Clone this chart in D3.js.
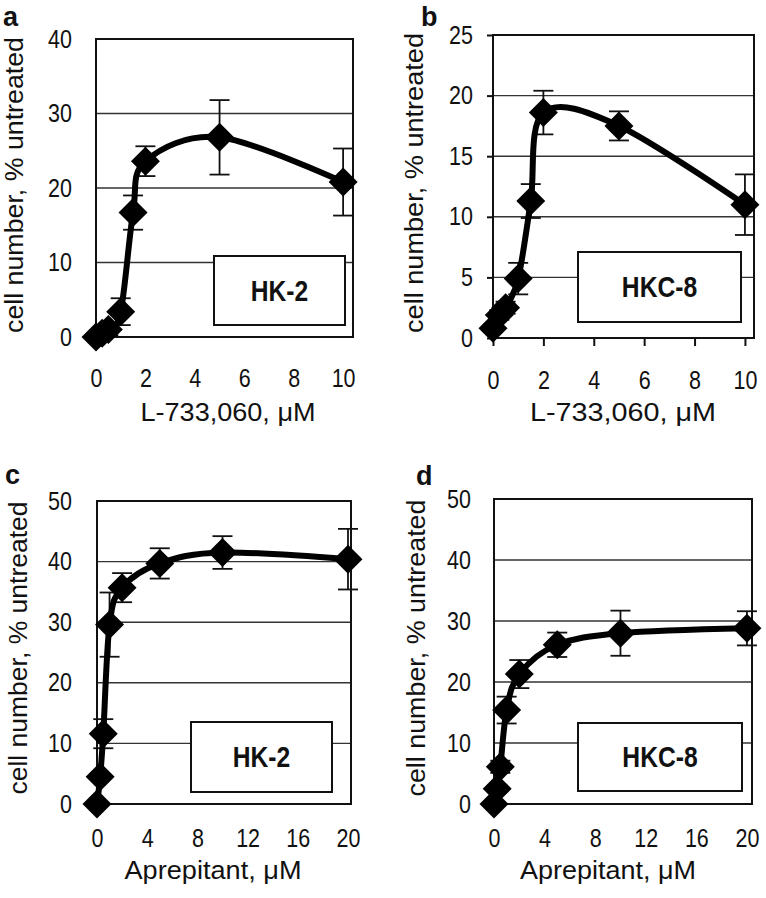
<!DOCTYPE html>
<html>
<head>
<meta charset="utf-8">
<script src="https://cdn.jsdelivr.net/npm/d3@7"></script>
<style>
  body { margin: 0; background: #fff; }
  text { font-family: "Liberation Sans", Arial, sans-serif; fill: #111; }
</style>
</head>
<body>
<svg id="plot" width="766" height="898"></svg>
<script>
// doses (uM)
const doseL733 = [0, 0.25, 0.5, 1, 1.5, 2, 5, 10];
const doseAprep = [0, 0.25, 0.5, 1, 2, 5, 10, 20];

// cell number, % untreated (mean and error)
const hk2L733 = [0, 0.5, 1, 3.4, 16.7, 23.6, 26.8, 20.8];
const hk2L733Err = [0.3, 0.5, 0.8, 1.8, 2.3, 2.0, 5.0, 4.5];
const hkc8L733 = [0.8, 1.9, 2.5, 4.9, 11.3, 18.6, 17.5, 11.0];
const hkc8L733Err = [0.3, 0.4, 0.5, 1.3, 1.4, 1.8, 1.2, 2.5];
const hk2Aprep = [0, 4.5, 11.6, 29.6, 35.7, 39.7, 41.5, 40.4];
const hk2AprepErr = [0.3, 0.5, 2.4, 5.3, 2.4, 2.5, 2.7, 5.0];
const hkc8Aprep = [0, 2.5, 6.1, 15.4, 21.3, 26.1, 28.0, 28.8];
const hkc8AprepErr = [0.3, 0.5, 1.0, 2.2, 2.3, 2.0, 3.7, 2.8];

// tick labels
const xTicksL733 = [0, 2, 4, 6, 8, 10];
const xTicksAprep = [0, 4, 8, 12, 16, 20];
const yTicksA = [0, 10, 20, 30, 40];
const yTicksB = [0, 5, 10, 15, 20, 25];
const yTicksCD = [0, 10, 20, 30, 40, 50];

const yTitle = "cell number, % untreated";
const xTitleL733 = "L-733,060,  \u03bcM";
const xTitleAprep = "Aprepitant, \u03bcM";

// layout of each panel
const panels = [
  { letter: "a", cell: "HK-2", x: doseL733, y: hk2L733, err: hk2L733Err,
    xTicks: xTicksL733, yTicks: yTicksA, xMax: 10.4, yMax: 40, xTitle: xTitleL733,
    left: 96, right: 353, top: 39, bottom: 337, ticks: false,
    yPad: 24, xPad: 41, letterPos: [3, 26], yTitlePos: [15, 185, 296], xTitlePos: [228, 412, 175],
    box: [214, 256, 345, 325] },
  { letter: "b", cell: "HKC-8", x: doseL733, y: hkc8L733, err: hkc8L733Err,
    xTicks: xTicksL733, yTicks: yTicksB, xMax: 10.36, yMax: 25, xTitle: xTitleL733,
    left: 493, right: 754, top: 35, bottom: 338, ticks: true,
    yPad: 20, xPad: 42, letterPos: [421, 26], yTitlePos: [415, 183, 300], xTitlePos: [623, 412, 186],
    box: [578, 252, 741, 322] },
  { letter: "c", cell: "HK-2", x: doseAprep, y: hk2Aprep, err: hk2AprepErr,
    xTicks: xTicksAprep, yTicks: yTicksCD, xMax: 20.24, yMax: 50, xTitle: xTitleAprep,
    left: 97, right: 351, top: 501, bottom: 804, ticks: false,
    yPad: 25, xPad: 34, letterPos: [5, 484], yTitlePos: [19, 648, 293], xTitlePos: [213, 870, 177],
    box: [191, 722, 332, 792] },
  { letter: "d", cell: "HKC-8", x: doseAprep, y: hkc8Aprep, err: hkc8AprepErr,
    xTicks: xTicksAprep, yTicks: yTicksCD, xMax: 20.4, yMax: 50, xTitle: xTitleAprep,
    left: 494, right: 752, top: 499, bottom: 804, ticks: false,
    yPad: 23, xPad: 34, letterPos: [416, 485], yTitlePos: [417, 648, 297], xTitlePos: [608, 870, 176],
    box: [578, 723, 742, 791] }
];

const svg = d3.select("#plot");
const SX = 0.86; // the figure's text is narrow

function squish(sel, sx) {
  sel.each(function () {
    const t = d3.select(this);
    const x = +t.attr("x") || 0;
    t.attr("x", x / sx).attr("transform", `scale(${sx},1)`);
  });
}

panels.forEach(p => {
  const g = svg.append("g");
  const xScale = d3.scaleLinear().domain([0, p.xMax]).range([p.left, p.right]);
  const yScale = d3.scaleLinear().domain([0, p.yMax]).range([p.bottom, p.top]);

  // gridlines
  g.append("g").selectAll("line")
    .data(p.yTicks.filter(t => t > 0 && t < p.yMax))
    .join("line")
    .attr("x1", p.left).attr("x2", p.right)
    .attr("y1", d => yScale(d)).attr("y2", d => yScale(d))
    .attr("stroke", "#333").attr("stroke-width", 1.4);

  // frame
  g.append("rect")
    .attr("x", p.left).attr("y", p.top)
    .attr("width", p.right - p.left).attr("height", p.bottom - p.top)
    .attr("fill", "none").attr("stroke", "#111").attr("stroke-width", 2);

  // axes
  const yAxis = g.append("g")
    .attr("transform", `translate(${p.left},0)`)
    .call(d3.axisLeft(yScale).tickValues(p.yTicks)
      .tickSize(p.ticks ? 6 : 0).tickPadding(p.ticks ? p.yPad - 6 : p.yPad));
  const xAxis = g.append("g")
    .attr("transform", `translate(0,${p.bottom})`)
    .call(d3.axisBottom(xScale).tickValues(p.xTicks)
      .tickSize(p.ticks ? 8 : 0).tickPadding(p.ticks ? p.xPad - 8 : p.xPad));
  [yAxis, xAxis].forEach(ax => {
    ax.select(".domain").remove();
    ax.selectAll("line").attr("stroke", "#111").attr("stroke-width", 2);
    ax.selectAll("text").attr("font-size", 25).attr("fill", "#111")
      .style("font-family", '"Liberation Sans", Arial, sans-serif');
  });
  xAxis.selectAll("text").attr("dy", "0.35em");
  squish(yAxis.selectAll("text"), SX);
  squish(xAxis.selectAll("text"), SX);

  // label box
  const [bx0, by0, bx1, by1] = p.box;
  g.append("rect")
    .attr("x", bx0).attr("y", by0).attr("width", bx1 - bx0).attr("height", by1 - by0)
    .attr("fill", "#fff").attr("stroke", "#111").attr("stroke-width", 2);
  g.append("text")
    .attr("transform", `translate(${(bx0 + bx1) / 2},${(by0 + by1) / 2}) scale(0.85,1)`)
    .attr("text-anchor", "middle").attr("dy", "0.36em")
    .attr("font-size", 29).attr("font-weight", "bold")
    .text(p.cell);

  const pts = p.x.map((d, i) => ({ x: d, y: p.y[i], e: p.err[i] }));

  // error bars
  const eb = g.append("g").attr("stroke", "#111").attr("stroke-width", 1.8);
  eb.selectAll(".v").data(pts).join("line")
    .attr("x1", d => xScale(d.x)).attr("x2", d => xScale(d.x))
    .attr("y1", d => yScale(d.y - d.e)).attr("y2", d => yScale(d.y + d.e));
  eb.selectAll(".top").data(pts).join("line")
    .attr("x1", d => xScale(d.x) - 10).attr("x2", d => xScale(d.x) + 10)
    .attr("y1", d => yScale(d.y + d.e)).attr("y2", d => yScale(d.y + d.e));
  eb.selectAll(".bot").data(pts).join("line")
    .attr("x1", d => xScale(d.x) - 10).attr("x2", d => xScale(d.x) + 10)
    .attr("y1", d => yScale(d.y - d.e)).attr("y2", d => yScale(d.y - d.e));

  // smoothed line
  const line = d3.line()
    .x(d => xScale(d.x)).y(d => yScale(d.y))
    .curve(d3.curveCardinal.tension(0));
  g.append("path").datum(pts)
    .attr("d", line)
    .attr("fill", "none").attr("stroke", "#000")
    .attr("stroke-width", 6).attr("stroke-linejoin", "round");

  // diamond markers
  const diamond = d3.symbol().type(d3.symbolSquare).size(420);
  g.append("g").selectAll("path").data(pts).join("path")
    .attr("d", diamond)
    .attr("transform", d => `translate(${xScale(d.x)},${yScale(d.y)}) rotate(45)`)
    .attr("fill", "#000");

  // titles
  g.append("text")
    .attr("transform", `translate(${p.yTitlePos[0]},${p.yTitlePos[1]}) rotate(-90)`)
    .attr("text-anchor", "middle").attr("dy", "0.3em")
    .attr("font-size", 26)
    .attr("textLength", p.yTitlePos[2]).attr("lengthAdjust", "spacingAndGlyphs")
    .text(yTitle);
  g.append("text")
    .attr("x", p.xTitlePos[0] - p.xTitlePos[2] / 2).attr("y", p.xTitlePos[1])
    .attr("dy", "0.35em")
    .attr("font-size", 25)
    .attr("textLength", p.xTitlePos[2]).attr("lengthAdjust", "spacingAndGlyphs")
    .text(p.xTitle);

  // panel letter
  g.append("text")
    .attr("x", p.letterPos[0]).attr("y", p.letterPos[1])
    .attr("font-size", 27).attr("font-weight", "bold")
    .text(p.letter);
});
</script>
</body>
</html>
